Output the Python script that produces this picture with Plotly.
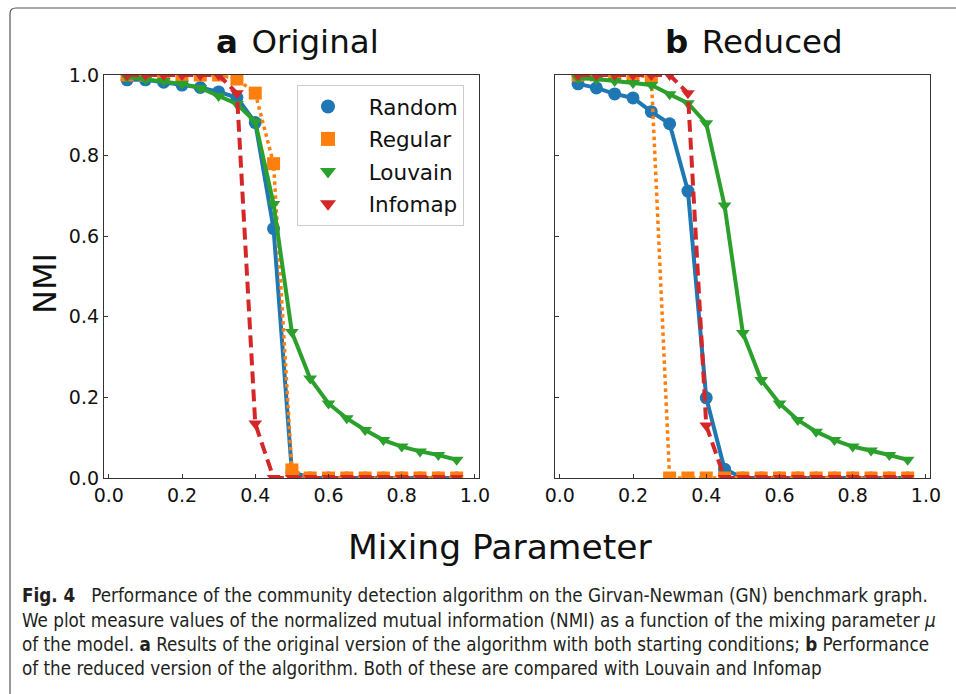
import plotly.graph_objects as go

W, H = 956, 694

mu = [0.05, 0.10, 0.15, 0.20, 0.25, 0.30, 0.35, 0.40, 0.45, 0.50,
      0.55, 0.60, 0.65, 0.70, 0.75, 0.80, 0.85, 0.90, 0.95]

# Panel a: Original
a_random = [0.988, 0.988, 0.982, 0.975, 0.969, 0.958, 0.944, 0.882, 0.619, 0.015,
            0, 0, 0, 0, 0, 0, 0, 0, 0]
a_regular = [1.0, 1.0, 1.0, 1.0, 1.0, 1.0, 0.99, 0.955, 0.78, 0.02,
             0, 0, 0, 0, 0, 0, 0, 0, 0]
a_louvain = [0.995, 0.99, 0.985, 0.978, 0.968, 0.948, 0.928, 0.884, 0.68, 0.362,
             0.247, 0.185, 0.148, 0.119, 0.094, 0.078, 0.066, 0.057, 0.045]
a_infomap = [1.0, 1.0, 1.0, 1.0, 1.0, 1.0, 0.955, 0.135, 0.0, 0.0,
             0, 0, 0, 0, 0, 0, 0, 0, 0]

# Panel b: Reduced
b_random = [0.978, 0.968, 0.953, 0.943, 0.909, 0.879, 0.712, 0.199, 0.022, 0.0,
            0, 0, 0, 0, 0, 0, 0, 0, 0]
b_regular = [1.0, 1.0, 1.0, 1.0, 0.995, 0.0, 0.0, 0.0, 0.0, 0.0,
             0, 0, 0, 0, 0, 0, 0, 0, 0]
b_louvain = [0.992, 0.99, 0.985, 0.98, 0.975, 0.952, 0.93, 0.88, 0.676, 0.36,
             0.243, 0.185, 0.144, 0.115, 0.094, 0.078, 0.068, 0.057, 0.045]
b_infomap = [1.0, 1.0, 1.0, 1.0, 1.0, 1.0, 0.955, 0.13, 0.0, 0.0,
             0, 0, 0, 0, 0, 0, 0, 0, 0]

series_names = ["Random", "Regular", "Louvain", "Infomap"]
colors = ["#1f77b4", "#ff7f0e", "#2ca02c", "#d62728"]
symbols = ["circle", "square", "triangle-down", "triangle-down"]
msizes = [13, 13, 12, 12]
dashes = ["solid", "3.5px,3.5px", "solid", "12px,6px"]
lwidths = [4, 3.5, 4, 4]

x_ticks = [0.0, 0.2, 0.4, 0.6, 0.8, 1.0]
y_ticks = [0.0, 0.2, 0.4, 0.6, 0.8, 1.0]

panel_titles = ["<b>a</b> \u200aOriginal", "<b>b</b> \u200aReduced"]
x_title = "Mixing Parameter"
y_title = "NMI"

caption_lines = [
    "<b>Fig. 4</b>   Performance of the community detection algorithm on the Girvan-Newman (GN) benchmark graph.",
    "We plot measure values of the normalized mutual information (NMI) as a function of the mixing parameter <i>μ</i>",
    "of the model. <b>a</b> Results of the original version of the algorithm with both starting conditions; <b>b</b> Performance",
    "of the reduced version of the algorithm. Both of these are compared with Louvain and Infomap",
]

fig = go.Figure()

panels = [(a_random, a_regular, a_louvain, a_infomap),
          (b_random, b_regular, b_louvain, b_infomap)]
for p, data in enumerate(panels):
    xa = "x" if p == 0 else "x2"
    ya = "y" if p == 0 else "y2"
    for i, ys in enumerate(data):
        fig.add_trace(go.Scatter(
            x=mu, y=ys, mode="lines+markers", xaxis=xa, yaxis=ya,
            line=dict(color=colors[i], width=lwidths[i], dash=dashes[i]),
            marker=dict(color=colors[i], symbol=symbols[i], size=msizes[i],
                        line=dict(width=0)),
            showlegend=False, hoverinfo="skip"))

# legend entries (markers only)
for i, name in enumerate(series_names):
    fig.add_trace(go.Scatter(
        x=[None], y=[None], mode="markers", name="\u2002" + name,
        marker=dict(color=colors[i], symbol=symbols[i], size=14),
        showlegend=True, legendgroup=name))

def px(xp):
    return xp / W

def py(yp):
    return 1 - yp / H

axis_common = dict(
    range=[-0.013, 1.011], tickvals=x_ticks, ticktext=["%.1f" % v for v in x_ticks],
    ticks="inside", ticklen=4, tickwidth=1, tickcolor="#333",
    showline=True, linecolor="#333", linewidth=1.3, mirror=True,
    showgrid=False, zeroline=False, automargin=False,
    tickfont=dict(family="DejaVu Sans", size=19, color="#111"),
)
yaxis_common = dict(
    range=[0, 1], tickvals=y_ticks, ticktext=["%.1f" % v for v in y_ticks],
    ticks="inside", ticklen=4, tickwidth=1, tickcolor="#333",
    showline=True, linecolor="#333", linewidth=1.3, mirror=True,
    showgrid=False, zeroline=False, automargin=False,
    tickfont=dict(family="DejaVu Sans", size=19, color="#111"),
    domain=[py(478), py(75)],
)

annotations = []
for p, t in enumerate(panel_titles):
    cx = 297 if p == 0 else 754
    annotations.append(dict(text=t, x=px(cx), y=py(42), xref="paper", yref="paper",
                            xanchor="center", yanchor="middle", showarrow=False,
                            font=dict(family="DejaVu Sans", size=32.5, color="#111")))
annotations.append(dict(text=x_title, x=px(500), y=py(547), xref="paper", yref="paper",
                        xanchor="center", yanchor="middle", showarrow=False,
                        font=dict(family="DejaVu Sans", size=34.5, color="#111")))
annotations.append(dict(text=y_title, x=px(45), y=py(284), xref="paper", yref="paper",
                        xanchor="center", yanchor="middle", showarrow=False, textangle=-90,
                        font=dict(family="DejaVu Sans", size=32, color="#111")))
cap_y = [595, 620, 644, 668]
for line, yy in zip(caption_lines, cap_y):
    annotations.append(dict(text=line, x=px(20), y=py(yy), xref="paper", yref="paper",
                            xanchor="left", yanchor="middle", showarrow=False,
                            font=dict(family="DejaVu Sans Condensed, DejaVu Sans, sans-serif",
                                      size=18.7, color="#231f20")))

# rounded frame around the figure
r = 6
x0, y0 = 10, 8
frame_path = (f"M {px(x0)},{py(H + 20)} V {py(y0 + r)} "
              f"Q {px(x0)},{py(y0)} {px(x0 + r)},{py(y0)} H {px(W + 20)}")

fig.update_layout(
    width=W, height=H, autosize=False,
    margin=dict(l=0, r=0, t=0, b=0, pad=0, autoexpand=False),
    paper_bgcolor="white", plot_bgcolor="white",
    xaxis=dict(axis_common, domain=[px(104), px(479)], anchor="y"),
    xaxis2=dict(axis_common, domain=[px(555), px(930)], anchor="y2"),
    yaxis=dict(yaxis_common, anchor="x"),
    yaxis2=dict(yaxis_common, anchor="x2", showticklabels=False, matches="y"),
    legend=dict(x=px(297), y=py(85), xanchor="left", yanchor="top",
                bgcolor="white", bordercolor="#cccccc", borderwidth=1,
                font=dict(family="DejaVu Sans", size=21.5, color="#111"),
                itemwidth=50, traceorder="grouped", tracegroupgap=1.5),
    annotations=annotations,
    shapes=[dict(type="path", path=frame_path, xref="paper", yref="paper",
                 line=dict(color="#555", width=1.2), layer="above")],
    showlegend=True,
)

fig.write_html("out.html",
               post_script="document.body.style.margin='0';document.body.style.overflow='hidden';")
